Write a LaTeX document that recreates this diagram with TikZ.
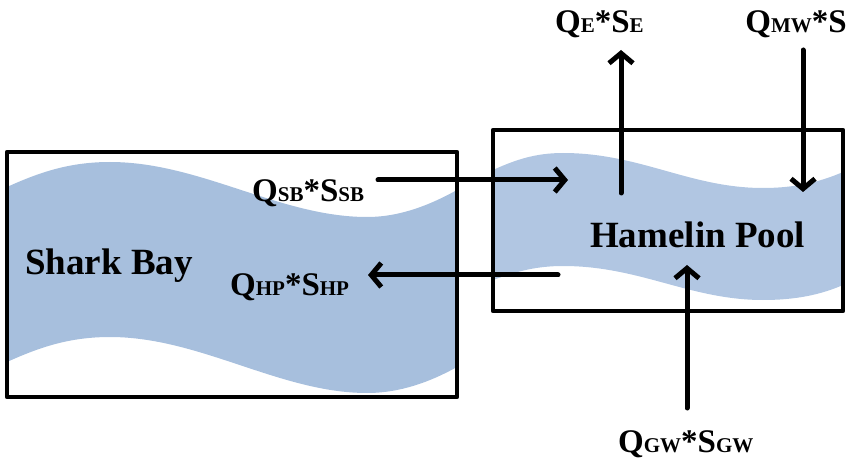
\documentclass[tikz,border=0pt]{standalone}
\usepackage{fontspec}
\setmainfont{Liberation Serif}
\usetikzlibrary{arrows.meta}
\definecolor{waterL}{RGB}{167,191,221}
\definecolor{waterR}{RGB}{177,198,226}
\newcommand\mysub[1]{{\fontsize{21}{21}\selectfont #1}}
\tikzset{
  boxline/.style={line width=4.5pt, line join=round},
  flow/.style={line width=5pt, -{Straight Barb[length=10pt,width=24pt,line width=5pt]}, line cap=round},
  lbl/.style={inner sep=0pt, font=\bfseries\fontsize{33}{36}\selectfont},
  big/.style={inner sep=0pt, font=\bfseries\fontsize{37}{40}\selectfont}
}
\begin{document}
\begin{tikzpicture}[x=1pt,y=-1pt]
\useasboundingbox (0,0) rectangle (849,465);
% water in Shark Bay
\fill[waterL] (7,187) .. controls (40,172) and (70,162) .. (110,162)
  .. controls (200,162) and (280,217) .. (367,217)
  .. controls (400,217) and (430,205) .. (457,190)
  -- (457,367)
  .. controls (430,382) and (400,393) .. (367,393)
  .. controls (280,393) and (200,337) .. (110,337)
  .. controls (70,337) and (40,347) .. (7,362) -- cycle;
% water in Hamelin Pool
\fill[waterR] (493,170) .. controls (515,160) and (535,153) .. (563,153)
  .. controls (640,153) and (690,188) .. (763,188)
  .. controls (795,188) and (820,182) .. (843,172)
  -- (843,285)
  .. controls (820,295) and (795,300) .. (763,300)
  .. controls (690,300) and (640,266) .. (563,266)
  .. controls (535,266) and (515,272) .. (493,280) -- cycle;
% boxes
\draw[boxline] (7,152) rectangle (457,397);
\draw[boxline] (493,130) rectangle (843,311);
% names
\node[big, anchor=base west] (sb) at (25,275) {Shark Bay};
\node[big, anchor=base west] (hp) at (590,248) {Hamelin Pool};
% labels
\node[lbl, anchor=base west] (lsb) at (252,202) {Q\mysub{SB}*S\mysub{SB}};
\node[lbl, anchor=base west] (lhp) at (230,295) {Q\mysub{HP}*S\mysub{HP}};
\node[lbl, anchor=base west] (le) at (555,33) {Q\mysub{E}*S\mysub{E}};
\node[lbl, anchor=base east] (lmw) at (847,33) {Q\mysub{MW}*S};
\node[lbl, anchor=base west] (lgw) at (618,452) {Q\mysub{GW}*S\mysub{GW}};
% arrow end points
\coordinate (sbA) at (378,180); \coordinate (sbB) at (568,180);
\coordinate (hpA) at (558,275); \coordinate (hpB) at (368,275);
\coordinate (eA) at (621,193);  \coordinate (eB) at (621,50);
\coordinate (mwA) at (803,50);  \coordinate (mwB) at (803,192);
\coordinate (gwA) at (687,408); \coordinate (gwB) at (687,265);
\draw[flow] (sbA) -- (sbB);
\draw[flow] (hpA) -- (hpB);
\draw[flow] (eA) -- (eB);
\draw[flow] (mwA) -- (mwB);
\draw[flow] (gwA) -- (gwB);
\end{tikzpicture}
\end{document}
